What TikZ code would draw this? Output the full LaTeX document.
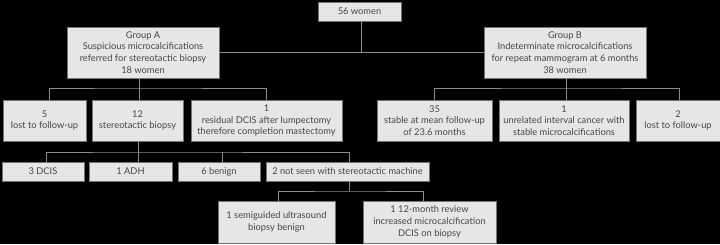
\documentclass[tikz,border=0pt]{standalone}
\usepackage{fontspec}
\setmainfont{Lato}
\definecolor{boxfill}{HTML}{E6E6E4}
\definecolor{boxline}{HTML}{747474}
\definecolor{conn}{HTML}{8C8C8C}
\definecolor{txt}{HTML}{464646}
\tikzset{
  bx/.style={draw=boxline, fill=boxfill, line width=0.9pt, inner sep=0pt,
    align=center, text=txt, font=\fontsize{9.3}{11.7}\selectfont},
  cn/.style={draw=conn, line width=0.9pt},
}
\newcommand{\bxat}[5]{\node[bx, minimum width=#3pt, minimum height=#4pt] (#1) at (#2) {#5};}
\begin{document}
\begin{tikzpicture}[x=1pt,y=-1pt]
\fill[black] (0,0) rectangle (720,244);
\useasboundingbox (0,0) rectangle (720,244);
\bxat{w56}{359.5,11.5}{83}{19}{56 women}
\bxat{gA}{143,52.5}{152}{51}{Group A\\Suspicious microcalcifications\\referred for stereotactic biopsy\\18 women}
\bxat{gB}{565,52.5}{162}{51}{Group B\\Indeterminate microcalcifications\\for repeat mammogram at 6 months\\38 women}
\bxat{a1}{44.5,120.5}{83}{41}{5\\lost to follow-up}
\bxat{a2}{137.5,120.5}{91}{41}{12\\stereotactic biopsy}
\bxat{a3}{266.5,120.5}{151}{41}{1\\residual DCIS after lumpectomy\\therefore completion mastectomy}
\bxat{b1}{434.5,120.5}{115}{41}{35\\stable at mean follow-up\\of 23.6 months}
\bxat{b2}{564,120.5}{130}{41}{1\\unrelated interval cancer with\\stable microcalcifications}
\bxat{b3}{678,120.5}{84}{41}{2\\lost to follow-up}
\bxat{c1}{43,171.5}{82}{19}{3 DCIS}
\bxat{c2}{130.5,171.5}{83}{19}{1 ADH}
\bxat{c3}{219,171.5}{82}{19}{6 benign}
\bxat{c4}{347.5,171.5}{163}{19}{2 not seen with stereotactic machine}
\bxat{d1}{276.5,222}{117}{42}{1 semiguided ultrasound\\biopsy benign}
\bxat{d2}{429.5,222}{133}{42}{1 12-month review\\increased microcalcification\\DCIS on biopsy}
% top connectors
\coordinate (jT) at (361,52.5);
\draw[cn] ([xshift=1.5pt]w56.south) -- (jT);
\draw[cn] (gA.east) -- (gB.west);
% group A fork
\coordinate (jA) at (139,88);
\draw[cn] (gA.south -| jA) -- (jA);
\draw[cn] ([xshift=4.5pt]a1.north) |- (jA) -| (a3.north);
\draw[cn] (jA) -- (a2.north -| jA);
% group B fork
\coordinate (jB) at (566,88);
\draw[cn] (gB.south -| jB) -- (jB);
\draw[cn] (b1.north) |- (jB) -| ([xshift=1pt]b3.north);
\draw[cn] (jB) -- (b2.north -| jB);
% a2 fork
\coordinate (jC) at (138,152);
\draw[cn] (a2.south -| jC) -- (jC);
\draw[cn] ([xshift=3pt]c1.north) |- (jC) -| ([xshift=1.5pt]c4.north);
\draw[cn] (jC) -- (c2.north -| jC);
\draw[cn] ([xshift=3pt]c3.north) -- ([xshift=3pt]c3.north |- jC);
% c4 fork
\coordinate (jD) at (349,191);
\draw[cn] (c4.south -| jD) -- (jD);
\draw[cn] ([xshift=1.5pt]d1.north) |- (jD) -| ([xshift=-6.5pt]d2.north);
\end{tikzpicture}
\end{document}
